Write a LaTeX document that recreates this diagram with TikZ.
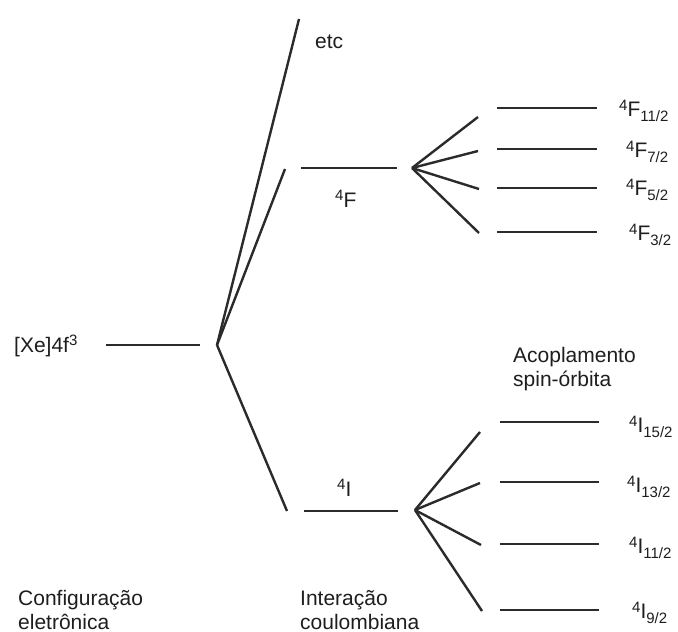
\documentclass[tikz,border=0pt]{standalone}
\usepackage{fontspec}
\setmainfont{Liberation Sans}
\newcommand{\smallsz}{\fontsize{15}{15}\selectfont}
\newcommand{\term}[3]{\raisebox{6pt}{\smallsz #1}#2\raisebox{-5pt}{\smallsz #3}}
\definecolor{ink}{HTML}{2B2B2B}
\definecolor{txt}{HTML}{1E1E1E}
\tikzset{
  lvl/.style={draw=ink, line width=2.7pt},
  branch/.style={draw=ink, line width=2.4pt},
  lab/.style={anchor=base west, inner sep=0pt, text=txt, font=\fontsize{21}{24}\selectfont},
  mlab/.style={lab, align=left}
}
\begin{document}
\begin{tikzpicture}[x=1pt,y=-1pt]
\path[use as bounding box, fill=white] (0,0) rectangle (678,632);

% configuration level
\coordinate (cfgL) at (106,345);
\coordinate (cfgR) at (200,345);
\coordinate (V0) at (217,345);
\coordinate (etcTop) at (299,19);
\coordinate (Fbr) at (285,169);
\coordinate (Ibr) at (287,511);

% 4F term
\coordinate (FL) at (301,168);
\coordinate (FR) at (397,168);
\coordinate (FV) at (412,168);
\coordinate (Fe1) at (478,117);
\coordinate (Fe2) at (478,151);
\coordinate (Fe3) at (479,189);
\coordinate (Fe4) at (479,233);
\coordinate (F1L) at (497,108); \coordinate (F1R) at (597,108);
\coordinate (F2L) at (497,149); \coordinate (F2R) at (597,149);
\coordinate (F3L) at (497,188); \coordinate (F3R) at (597,188);
\coordinate (F4L) at (497,232); \coordinate (F4R) at (597,232);

% 4I term
\coordinate (IL) at (304,511);
\coordinate (IR) at (398,511);
\coordinate (IV) at (415,510);
\coordinate (Ie1) at (480,432);
\coordinate (Ie2) at (480,483);
\coordinate (Ie3) at (481,545);
\coordinate (Ie4) at (482,611);
\coordinate (I1L) at (500,422); \coordinate (I1R) at (599,422);
\coordinate (I2L) at (500,482); \coordinate (I2R) at (599,482);
\coordinate (I3L) at (500,544); \coordinate (I3R) at (599,544);
\coordinate (I4L) at (500,610); \coordinate (I4R) at (599,610);

% levels
\draw[lvl] (cfgL) -- (cfgR);
\draw[lvl] (FL) -- (FR);
\draw[lvl] (IL) -- (IR);
\foreach \n in {F1,F2,F3,F4,I1,I2,I3,I4}{\draw[lvl] (\n L) -- (\n R);}

% branches
\draw[branch] (V0) -- (etcTop);
\draw[branch] (V0) -- (Fbr);
\draw[branch] (V0) -- (Ibr);
\foreach \k in {1,2,3,4}{\draw[branch] (FV) -- (Fe\k);}
\foreach \k in {1,2,3,4}{\draw[branch] (IV) -- (Ie\k);}

% labels
\node[lab] (xe) at (14,352) {[Xe]4f\raisebox{7pt}{\smallsz 3}};
\node[lab] (etc) at (315,48) {etc};
\node[lab] (tF) at (335,207) {\raisebox{7pt}{\smallsz 4}F};
\node[lab] (tI) at (337,496) {\raisebox{7pt}{\smallsz 4}I};

\node[lab] (f1) at (619,116) {\term{4}{F}{11/2}};
\node[lab] (f2) at (626,157) {\term{4}{F}{7/2}};
\node[lab] (f3) at (626,195) {\term{4}{F}{5/2}};
\node[lab] (f4) at (629,240) {\term{4}{F}{3/2}};

\node[lab] (i1) at (629,432) {\term{4}{I}{15/2}};
\node[lab] (i2) at (627,492) {\term{4}{I}{13/2}};
\node[lab] (i3) at (629,553) {\term{4}{I}{11/2}};
\node[lab] (i4) at (632,618) {\term{4}{I}{9/2}};

\node[lab] (aco1) at (513,362) {Acoplamento};
\node[lab] (aco2) at (513,386) {spin-órbita};
\node[lab] (cfg1) at (18,605) {Configuração};
\node[lab] (cfg2) at (18,629) {eletrônica};
\node[lab] (int1) at (300,605) {Interação};
\node[lab] (int2) at (300,629) {coulombiana};
\end{tikzpicture}
\end{document}
